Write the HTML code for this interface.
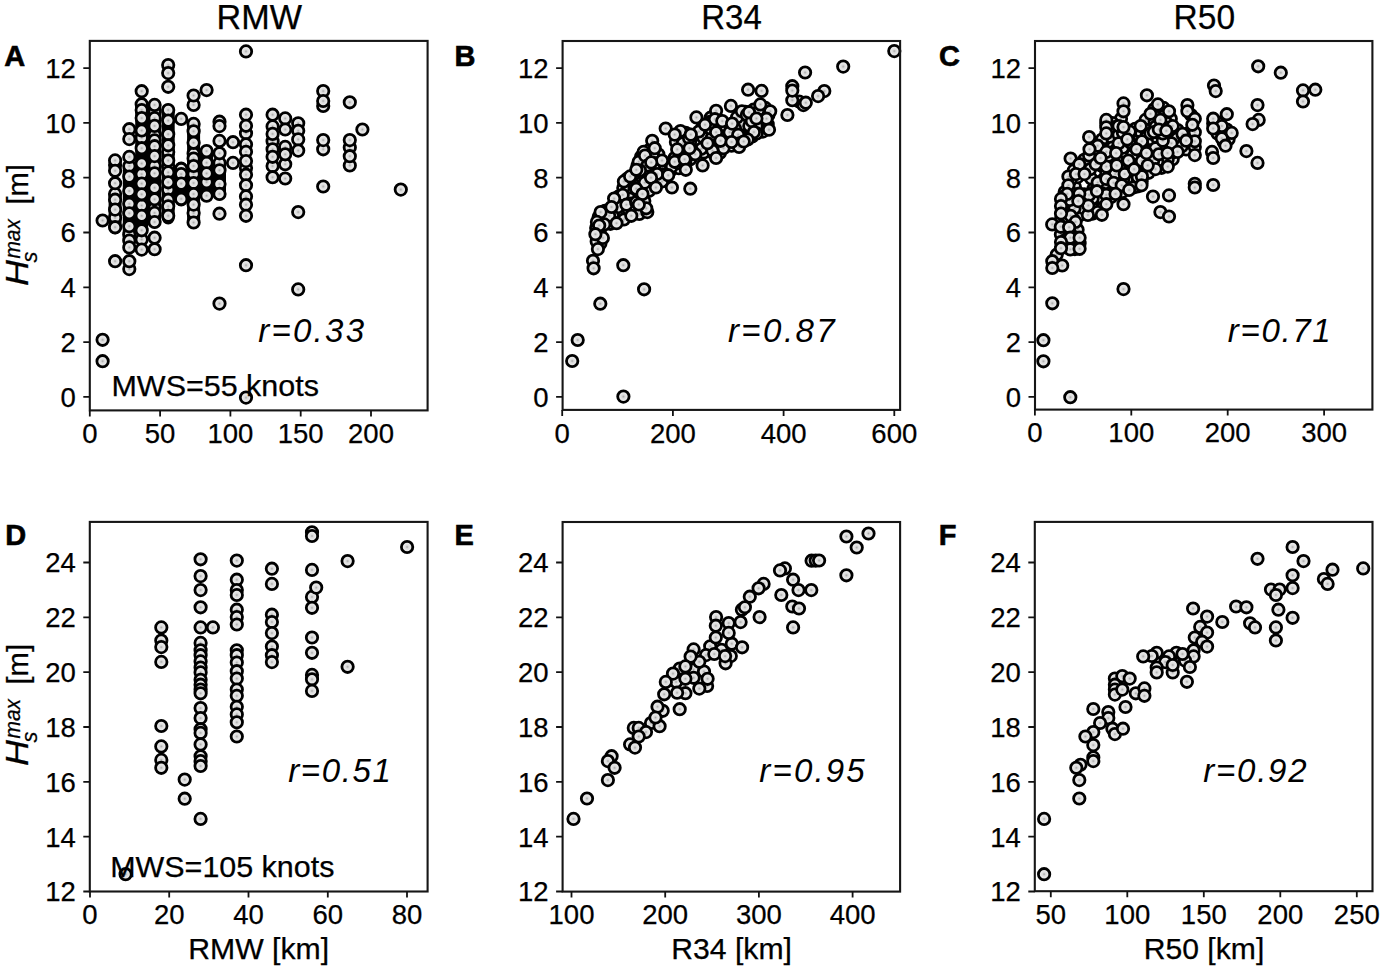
<!DOCTYPE html>
<html><head><meta charset="utf-8"><style>
html,body{margin:0;padding:0;background:#fff;width:1383px;height:969px;overflow:hidden}
svg{display:block;font-family:"Liberation Sans", sans-serif;} text{stroke:#000;stroke-width:0.25px;}
</style></head><body>
<svg width="1383" height="969" viewBox="0 0 1383 969"><defs><radialGradient id="mg"><stop offset="0" stop-color="#a8a8a8"/><stop offset="0.28" stop-color="#dadada"/><stop offset="0.55" stop-color="#e6e6e6"/><stop offset="1" stop-color="#ebebeb"/></radialGradient></defs><rect width="100%" height="100%" fill="#fff"/><path d="M115.1 195.0L115.1 228.0 M129.3 170.0L129.3 242.0 M141.7 108.0L141.7 226.0 M154.6 108.0L154.6 222.0 M168.2 110.0L168.2 218.0 M181.2 168.0L181.2 200.0 M193.6 124.0L193.6 220.0 M206.6 152.0L206.6 194.0 M219.5 168.0L219.5 194.0" stroke="#000" stroke-width="13" stroke-linecap="round" fill="none"/><g fill="url(#mg)" stroke="#000" stroke-width="2.8"><circle cx="115.1" cy="165.0" r="5.7"/><circle cx="115.1" cy="193.9" r="5.7"/><circle cx="115.1" cy="199.7" r="5.7"/><circle cx="115.1" cy="217.8" r="5.7"/><circle cx="129.3" cy="166.0" r="5.7"/><circle cx="129.3" cy="203.8" r="5.7"/><circle cx="129.3" cy="234.4" r="5.7"/><circle cx="129.3" cy="240.5" r="5.7"/><circle cx="129.3" cy="269.1" r="5.7"/><circle cx="141.7" cy="104.2" r="5.7"/><circle cx="141.7" cy="110.0" r="5.7"/><circle cx="141.7" cy="137.9" r="5.7"/><circle cx="141.7" cy="174.1" r="5.7"/><circle cx="141.7" cy="205.5" r="5.7"/><circle cx="141.7" cy="239.5" r="5.7"/><circle cx="154.6" cy="112.1" r="5.7"/><circle cx="154.6" cy="118.1" r="5.7"/><circle cx="154.6" cy="135.0" r="5.7"/><circle cx="154.6" cy="140.4" r="5.7"/><circle cx="154.6" cy="146.2" r="5.7"/><circle cx="154.6" cy="165.8" r="5.7"/><circle cx="154.6" cy="207.9" r="5.7"/><circle cx="154.6" cy="212.9" r="5.7"/><circle cx="168.2" cy="65.1" r="5.7"/><circle cx="168.2" cy="110.0" r="5.7"/><circle cx="168.2" cy="152.0" r="5.7"/><circle cx="168.2" cy="166.7" r="5.7"/><circle cx="168.2" cy="172.4" r="5.7"/><circle cx="168.2" cy="189.8" r="5.7"/><circle cx="168.2" cy="199.7" r="5.7"/><circle cx="168.2" cy="206.3" r="5.7"/><circle cx="181.2" cy="169.1" r="5.7"/><circle cx="181.2" cy="174.1" r="5.7"/><circle cx="193.6" cy="104.9" r="5.7"/><circle cx="193.6" cy="123.9" r="5.7"/><circle cx="193.6" cy="153.6" r="5.7"/><circle cx="193.6" cy="158.6" r="5.7"/><circle cx="193.6" cy="174.0" r="5.7"/><circle cx="193.6" cy="183.0" r="5.7"/><circle cx="193.6" cy="194.0" r="5.7"/><circle cx="193.6" cy="213.0" r="5.7"/><circle cx="206.6" cy="162.7" r="5.7"/><circle cx="206.6" cy="182.1" r="5.7"/><circle cx="219.5" cy="121.7" r="5.7"/><circle cx="219.5" cy="162.9" r="5.7"/><circle cx="246.0" cy="133.3" r="5.7"/><circle cx="246.0" cy="144.4" r="5.7"/><circle cx="246.0" cy="167.9" r="5.7"/><circle cx="272.6" cy="126.4" r="5.7"/><circle cx="272.6" cy="141.3" r="5.7"/><circle cx="272.6" cy="149.3" r="5.7"/><circle cx="272.6" cy="166.1" r="5.7"/><circle cx="285.2" cy="146.9" r="5.7"/><circle cx="285.2" cy="164.2" r="5.7"/><circle cx="298.2" cy="123.3" r="5.7"/><circle cx="298.2" cy="130.8" r="5.7"/><circle cx="323.2" cy="106.0" r="5.7"/><circle cx="323.2" cy="149.3" r="5.7"/><circle cx="349.8" cy="147.5" r="5.7"/><circle cx="349.8" cy="165.4" r="5.7"/><circle cx="102.6" cy="220.5" r="5.7"/><circle cx="102.6" cy="339.8" r="5.7"/><circle cx="102.6" cy="361.2" r="5.7"/><circle cx="115.1" cy="160.4" r="5.7"/><circle cx="115.1" cy="170.8" r="5.7"/><circle cx="115.1" cy="183.2" r="5.7"/><circle cx="115.1" cy="209.6" r="5.7"/><circle cx="115.1" cy="227.2" r="5.7"/><circle cx="115.1" cy="261.2" r="5.7"/><circle cx="129.3" cy="129.2" r="5.7"/><circle cx="129.3" cy="139.1" r="5.7"/><circle cx="129.3" cy="156.9" r="5.7"/><circle cx="129.3" cy="176.6" r="5.7"/><circle cx="129.3" cy="191.0" r="5.7"/><circle cx="129.3" cy="213.3" r="5.7"/><circle cx="129.3" cy="226.2" r="5.7"/><circle cx="129.3" cy="247.4" r="5.7"/><circle cx="129.3" cy="261.2" r="5.7"/><circle cx="141.7" cy="91.2" r="5.7"/><circle cx="141.7" cy="118.1" r="5.7"/><circle cx="141.7" cy="130.5" r="5.7"/><circle cx="141.7" cy="148.2" r="5.7"/><circle cx="141.7" cy="163.5" r="5.7"/><circle cx="141.7" cy="183.6" r="5.7"/><circle cx="141.7" cy="194.3" r="5.7"/><circle cx="141.7" cy="215.8" r="5.7"/><circle cx="141.7" cy="230.3" r="5.7"/><circle cx="141.7" cy="249.6" r="5.7"/><circle cx="154.6" cy="104.9" r="5.7"/><circle cx="154.6" cy="125.9" r="5.7"/><circle cx="154.6" cy="156.1" r="5.7"/><circle cx="154.6" cy="173.3" r="5.7"/><circle cx="154.6" cy="187.7" r="5.7"/><circle cx="154.6" cy="199.3" r="5.7"/><circle cx="154.6" cy="222.0" r="5.7"/><circle cx="154.6" cy="237.7" r="5.7"/><circle cx="154.6" cy="249.2" r="5.7"/><circle cx="168.2" cy="73.1" r="5.7"/><circle cx="168.2" cy="86.8" r="5.7"/><circle cx="168.2" cy="120.6" r="5.7"/><circle cx="168.2" cy="134.2" r="5.7"/><circle cx="168.2" cy="145.3" r="5.7"/><circle cx="168.2" cy="160.6" r="5.7"/><circle cx="168.2" cy="182.3" r="5.7"/><circle cx="168.2" cy="215.8" r="5.7"/><circle cx="181.2" cy="118.9" r="5.7"/><circle cx="181.2" cy="183.6" r="5.7"/><circle cx="181.2" cy="198.9" r="5.7"/><circle cx="193.6" cy="95.5" r="5.7"/><circle cx="193.6" cy="131.3" r="5.7"/><circle cx="193.6" cy="142.8" r="5.7"/><circle cx="193.6" cy="166.0" r="5.7"/><circle cx="193.6" cy="204.6" r="5.7"/><circle cx="193.6" cy="222.5" r="5.7"/><circle cx="206.6" cy="90.1" r="5.7"/><circle cx="206.6" cy="151.1" r="5.7"/><circle cx="206.6" cy="173.4" r="5.7"/><circle cx="206.6" cy="195.7" r="5.7"/><circle cx="219.5" cy="126.1" r="5.7"/><circle cx="219.5" cy="140.9" r="5.7"/><circle cx="219.5" cy="153.3" r="5.7"/><circle cx="219.5" cy="170.3" r="5.7"/><circle cx="219.5" cy="184.0" r="5.7"/><circle cx="219.5" cy="193.9" r="5.7"/><circle cx="219.5" cy="213.7" r="5.7"/><circle cx="219.5" cy="303.6" r="5.7"/><circle cx="233.0" cy="142.2" r="5.7"/><circle cx="233.0" cy="162.9" r="5.7"/><circle cx="246.0" cy="51.4" r="5.7"/><circle cx="246.0" cy="114.7" r="5.7"/><circle cx="246.0" cy="125.8" r="5.7"/><circle cx="246.0" cy="151.8" r="5.7"/><circle cx="246.0" cy="161.1" r="5.7"/><circle cx="246.0" cy="174.7" r="5.7"/><circle cx="246.0" cy="185.3" r="5.7"/><circle cx="246.0" cy="196.4" r="5.7"/><circle cx="246.0" cy="204.7" r="5.7"/><circle cx="246.0" cy="215.8" r="5.7"/><circle cx="246.0" cy="265.2" r="5.7"/><circle cx="246.0" cy="397.6" r="5.7"/><circle cx="272.6" cy="114.7" r="5.7"/><circle cx="272.6" cy="133.9" r="5.7"/><circle cx="272.6" cy="156.8" r="5.7"/><circle cx="272.6" cy="177.2" r="5.7"/><circle cx="285.2" cy="118.4" r="5.7"/><circle cx="285.2" cy="129.5" r="5.7"/><circle cx="285.2" cy="154.3" r="5.7"/><circle cx="285.2" cy="178.5" r="5.7"/><circle cx="298.2" cy="139.4" r="5.7"/><circle cx="298.2" cy="150.6" r="5.7"/><circle cx="298.2" cy="212.1" r="5.7"/><circle cx="298.2" cy="289.4" r="5.7"/><circle cx="323.2" cy="91.1" r="5.7"/><circle cx="323.2" cy="101.0" r="5.7"/><circle cx="323.2" cy="140.1" r="5.7"/><circle cx="323.2" cy="186.5" r="5.7"/><circle cx="349.8" cy="102.3" r="5.7"/><circle cx="349.8" cy="140.1" r="5.7"/><circle cx="349.8" cy="156.2" r="5.7"/><circle cx="362.4" cy="129.5" r="5.7"/><circle cx="400.8" cy="189.6" r="5.7"/></g><rect x="89.8" y="40.9" width="337.8" height="369.5" fill="none" stroke="#161616" stroke-width="2.1"/><path d="M89.8 410.4V416.4 M160.1 410.4V416.4 M230.4 410.4V416.4 M300.7 410.4V416.4 M371.0 410.4V416.4 M89.8 396.9H83.3 M89.8 342.1H83.3 M89.8 287.3H83.3 M89.8 232.5H83.3 M89.8 177.7H83.3 M89.8 122.9H83.3 M89.8 68.1H83.3" stroke="#111" stroke-width="1.8" fill="none"/><text x="89.8" y="443.1" text-anchor="middle" font-size="27.5">0</text><text x="160.1" y="443.1" text-anchor="middle" font-size="27.5">50</text><text x="230.4" y="443.1" text-anchor="middle" font-size="27.5">100</text><text x="300.7" y="443.1" text-anchor="middle" font-size="27.5">150</text><text x="371.0" y="443.1" text-anchor="middle" font-size="27.5">200</text><text x="75.8" y="406.8" text-anchor="end" font-size="27.5">0</text><text x="75.8" y="352.0" text-anchor="end" font-size="27.5">2</text><text x="75.8" y="297.2" text-anchor="end" font-size="27.5">4</text><text x="75.8" y="242.4" text-anchor="end" font-size="27.5">6</text><text x="75.8" y="187.6" text-anchor="end" font-size="27.5">8</text><text x="75.8" y="132.8" text-anchor="end" font-size="27.5">10</text><text x="75.8" y="78.0" text-anchor="end" font-size="27.5">12</text><g fill="url(#mg)" stroke="#000" stroke-width="2.8"><circle cx="799.1" cy="101.5" r="5.7"/><circle cx="765.3" cy="107.9" r="5.7"/><circle cx="763.4" cy="111.5" r="5.7"/><circle cx="753.6" cy="109.7" r="5.7"/><circle cx="758.4" cy="111.4" r="5.7"/><circle cx="768.4" cy="115.0" r="5.7"/><circle cx="767.7" cy="124.2" r="5.7"/><circle cx="759.1" cy="119.9" r="5.7"/><circle cx="761.6" cy="126.0" r="5.7"/><circle cx="762.8" cy="131.6" r="5.7"/><circle cx="745.6" cy="118.7" r="5.7"/><circle cx="743.8" cy="130.3" r="5.7"/><circle cx="740.7" cy="124.8" r="5.7"/><circle cx="748.5" cy="132.8" r="5.7"/><circle cx="737.0" cy="117.4" r="5.7"/><circle cx="745.5" cy="111.8" r="5.7"/><circle cx="715.5" cy="115.0" r="5.7"/><circle cx="710.6" cy="117.7" r="5.7"/><circle cx="715.5" cy="125.7" r="5.7"/><circle cx="718.6" cy="120.1" r="5.7"/><circle cx="709.9" cy="121.9" r="5.7"/><circle cx="707.5" cy="131.8" r="5.7"/><circle cx="694.0" cy="134.9" r="5.7"/><circle cx="703.2" cy="137.4" r="5.7"/><circle cx="702.0" cy="128.1" r="5.7"/><circle cx="722.9" cy="132.2" r="5.7"/><circle cx="711.8" cy="137.7" r="5.7"/><circle cx="710.6" cy="128.4" r="5.7"/><circle cx="733.9" cy="133.4" r="5.7"/><circle cx="734.6" cy="137.7" r="5.7"/><circle cx="726.6" cy="140.2" r="5.7"/><circle cx="725.9" cy="126.7" r="5.7"/><circle cx="730.9" cy="127.9" r="5.7"/><circle cx="738.9" cy="139.0" r="5.7"/><circle cx="735.2" cy="129.1" r="5.7"/><circle cx="743.0" cy="137.1" r="5.7"/><circle cx="731.5" cy="145.7" r="5.7"/><circle cx="735.6" cy="142.6" r="5.7"/><circle cx="718.0" cy="149.4" r="5.7"/><circle cx="719.8" cy="153.1" r="5.7"/><circle cx="715.5" cy="145.7" r="5.7"/><circle cx="722.0" cy="144.5" r="5.7"/><circle cx="714.3" cy="154.3" r="5.7"/><circle cx="703.8" cy="152.5" r="5.7"/><circle cx="710.0" cy="146.9" r="5.7"/><circle cx="690.3" cy="159.2" r="5.7"/><circle cx="701.4" cy="148.8" r="5.7"/><circle cx="692.4" cy="151.3" r="5.7"/><circle cx="681.7" cy="137.1" r="5.7"/><circle cx="686.0" cy="140.8" r="5.7"/><circle cx="686.2" cy="145.7" r="5.7"/><circle cx="680.0" cy="146.3" r="5.7"/><circle cx="683.8" cy="151.3" r="5.7"/><circle cx="685.6" cy="132.8" r="5.7"/><circle cx="649.1" cy="150.0" r="5.7"/><circle cx="658.3" cy="154.3" r="5.7"/><circle cx="652.9" cy="155.3" r="5.7"/><circle cx="641.1" cy="156.8" r="5.7"/><circle cx="645.5" cy="158.7" r="5.7"/><circle cx="666.9" cy="163.5" r="5.7"/><circle cx="659.6" cy="167.2" r="5.7"/><circle cx="665.1" cy="167.8" r="5.7"/><circle cx="654.7" cy="163.0" r="5.7"/><circle cx="670.0" cy="170.9" r="5.7"/><circle cx="674.5" cy="158.0" r="5.7"/><circle cx="678.8" cy="168.2" r="5.7"/><circle cx="642.4" cy="166.0" r="5.7"/><circle cx="637.5" cy="165.8" r="5.7"/><circle cx="681.7" cy="163.5" r="5.7"/><circle cx="687.5" cy="156.2" r="5.7"/><circle cx="681.3" cy="156.8" r="5.7"/><circle cx="662.6" cy="174.6" r="5.7"/><circle cx="651.6" cy="172.1" r="5.7"/><circle cx="656.5" cy="180.7" r="5.7"/><circle cx="654.1" cy="168.2" r="5.7"/><circle cx="662.0" cy="181.4" r="5.7"/><circle cx="640.5" cy="185.7" r="5.7"/><circle cx="637.4" cy="179.5" r="5.7"/><circle cx="645.4" cy="176.4" r="5.7"/><circle cx="650.3" cy="185.0" r="5.7"/><circle cx="643.6" cy="188.3" r="5.7"/><circle cx="640.6" cy="176.2" r="5.7"/><circle cx="630.1" cy="185.0" r="5.7"/><circle cx="629.5" cy="191.8" r="5.7"/><circle cx="636.2" cy="195.5" r="5.7"/><circle cx="639.3" cy="191.4" r="5.7"/><circle cx="627.0" cy="178.9" r="5.7"/><circle cx="623.3" cy="188.1" r="5.7"/><circle cx="635.0" cy="173.5" r="5.7"/><circle cx="618.4" cy="196.7" r="5.7"/><circle cx="624.5" cy="199.8" r="5.7"/><circle cx="629.5" cy="198.6" r="5.7"/><circle cx="617.1" cy="200.9" r="5.7"/><circle cx="631.3" cy="203.5" r="5.7"/><circle cx="617.8" cy="207.2" r="5.7"/><circle cx="628.8" cy="210.2" r="5.7"/><circle cx="633.8" cy="209.0" r="5.7"/><circle cx="641.7" cy="207.2" r="5.7"/><circle cx="639.3" cy="198.1" r="5.7"/><circle cx="604.9" cy="210.9" r="5.7"/><circle cx="603.0" cy="215.8" r="5.7"/><circle cx="612.9" cy="216.4" r="5.7"/><circle cx="606.7" cy="220.1" r="5.7"/><circle cx="598.7" cy="217.0" r="5.7"/><circle cx="639.3" cy="213.9" r="5.7"/><circle cx="623.9" cy="219.5" r="5.7"/><circle cx="599.9" cy="229.9" r="5.7"/><circle cx="596.2" cy="228.1" r="5.7"/><circle cx="610.4" cy="223.8" r="5.7"/><circle cx="756.5" cy="126.0" r="5.7"/><circle cx="752.2" cy="136.5" r="5.7"/><circle cx="645.5" cy="163.0" r="5.7"/><circle cx="649.2" cy="190.8" r="5.7"/><circle cx="675.9" cy="142.0" r="5.7"/><circle cx="690.2" cy="141.4" r="5.7"/><circle cx="644.3" cy="201.1" r="5.7"/><circle cx="600.4" cy="243.5" r="5.7"/><circle cx="599.2" cy="236.1" r="5.7"/><circle cx="596.7" cy="241.6" r="5.7"/><circle cx="894.3" cy="51.1" r="5.7"/><circle cx="843.2" cy="66.6" r="5.7"/><circle cx="805.1" cy="72.5" r="5.7"/><circle cx="748.1" cy="89.7" r="5.7"/><circle cx="761.6" cy="90.9" r="5.7"/><circle cx="792.3" cy="86.2" r="5.7"/><circle cx="824.3" cy="91.1" r="5.7"/><circle cx="818.1" cy="96.1" r="5.7"/><circle cx="792.3" cy="100.2" r="5.7"/><circle cx="803.4" cy="105.1" r="5.7"/><circle cx="805.8" cy="102.7" r="5.7"/><circle cx="760.4" cy="104.4" r="5.7"/><circle cx="730.9" cy="105.9" r="5.7"/><circle cx="787.4" cy="115.0" r="5.7"/><circle cx="770.2" cy="111.3" r="5.7"/><circle cx="766.5" cy="118.7" r="5.7"/><circle cx="769.0" cy="129.7" r="5.7"/><circle cx="749.3" cy="126.0" r="5.7"/><circle cx="741.9" cy="111.3" r="5.7"/><circle cx="746.8" cy="115.0" r="5.7"/><circle cx="716.1" cy="110.8" r="5.7"/><circle cx="714.9" cy="119.2" r="5.7"/><circle cx="696.4" cy="117.4" r="5.7"/><circle cx="698.9" cy="131.5" r="5.7"/><circle cx="716.1" cy="132.2" r="5.7"/><circle cx="729.6" cy="132.2" r="5.7"/><circle cx="738.2" cy="134.7" r="5.7"/><circle cx="739.5" cy="143.3" r="5.7"/><circle cx="723.5" cy="148.2" r="5.7"/><circle cx="712.4" cy="150.6" r="5.7"/><circle cx="716.1" cy="158.0" r="5.7"/><circle cx="702.6" cy="165.4" r="5.7"/><circle cx="695.2" cy="154.3" r="5.7"/><circle cx="682.9" cy="143.3" r="5.7"/><circle cx="680.5" cy="131.0" r="5.7"/><circle cx="665.7" cy="128.5" r="5.7"/><circle cx="689.1" cy="138.3" r="5.7"/><circle cx="652.2" cy="140.8" r="5.7"/><circle cx="654.7" cy="148.2" r="5.7"/><circle cx="643.6" cy="151.9" r="5.7"/><circle cx="662.0" cy="160.5" r="5.7"/><circle cx="671.9" cy="166.6" r="5.7"/><circle cx="638.7" cy="161.7" r="5.7"/><circle cx="678.0" cy="162.9" r="5.7"/><circle cx="685.4" cy="164.2" r="5.7"/><circle cx="657.1" cy="174.0" r="5.7"/><circle cx="668.2" cy="175.2" r="5.7"/><circle cx="644.8" cy="182.6" r="5.7"/><circle cx="636.2" cy="188.7" r="5.7"/><circle cx="623.9" cy="181.4" r="5.7"/><circle cx="630.1" cy="176.4" r="5.7"/><circle cx="671.9" cy="187.5" r="5.7"/><circle cx="690.3" cy="188.7" r="5.7"/><circle cx="622.7" cy="194.9" r="5.7"/><circle cx="614.1" cy="198.6" r="5.7"/><circle cx="626.4" cy="204.7" r="5.7"/><circle cx="636.2" cy="202.3" r="5.7"/><circle cx="609.2" cy="209.6" r="5.7"/><circle cx="609.2" cy="215.8" r="5.7"/><circle cx="600.6" cy="212.1" r="5.7"/><circle cx="631.3" cy="215.8" r="5.7"/><circle cx="647.3" cy="212.1" r="5.7"/><circle cx="596.9" cy="221.9" r="5.7"/><circle cx="604.3" cy="224.4" r="5.7"/><circle cx="616.5" cy="223.2" r="5.7"/><circle cx="707.5" cy="143.3" r="5.7"/><circle cx="722.3" cy="121.1" r="5.7"/><circle cx="732.1" cy="123.6" r="5.7"/><circle cx="751.8" cy="121.1" r="5.7"/><circle cx="756.7" cy="133.4" r="5.7"/><circle cx="646.0" cy="170.3" r="5.7"/><circle cx="651.0" cy="177.7" r="5.7"/><circle cx="655.9" cy="187.5" r="5.7"/><circle cx="792.3" cy="90.6" r="5.7"/><circle cx="749.0" cy="112.3" r="5.7"/><circle cx="739.1" cy="147.0" r="5.7"/><circle cx="705.0" cy="124.7" r="5.7"/><circle cx="674.7" cy="134.6" r="5.7"/><circle cx="690.8" cy="134.6" r="5.7"/><circle cx="720.5" cy="140.8" r="5.7"/><circle cx="689.5" cy="148.2" r="5.7"/><circle cx="677.2" cy="149.4" r="5.7"/><circle cx="674.7" cy="161.8" r="5.7"/><circle cx="684.6" cy="159.3" r="5.7"/><circle cx="645.0" cy="155.6" r="5.7"/><circle cx="647.4" cy="165.5" r="5.7"/><circle cx="640.0" cy="170.5" r="5.7"/><circle cx="642.5" cy="194.0" r="5.7"/><circle cx="646.2" cy="208.3" r="5.7"/><circle cx="753.9" cy="132.1" r="5.7"/><circle cx="756.4" cy="118.5" r="5.7"/><circle cx="731.6" cy="142.0" r="5.7"/><circle cx="747.7" cy="139.5" r="5.7"/><circle cx="638.8" cy="204.5" r="5.7"/><circle cx="611.5" cy="207.0" r="5.7"/><circle cx="599.2" cy="225.5" r="5.7"/><circle cx="602.9" cy="237.9" r="5.7"/><circle cx="597.9" cy="249.1" r="5.7"/><circle cx="593.0" cy="260.8" r="5.7"/><circle cx="593.6" cy="268.3" r="5.7"/><circle cx="623.3" cy="265.2" r="5.7"/><circle cx="595.4" cy="234.2" r="5.7"/><circle cx="636.3" cy="169.8" r="5.7"/><circle cx="651.2" cy="162.4" r="5.7"/><circle cx="685.8" cy="169.8" r="5.7"/><circle cx="644.1" cy="289.3" r="5.7"/><circle cx="600.3" cy="303.7" r="5.7"/><circle cx="577.7" cy="340.0" r="5.7"/><circle cx="572.2" cy="361.0" r="5.7"/><circle cx="623.4" cy="396.6" r="5.7"/><circle cx="743.7" cy="141.5" r="5.7"/></g><rect x="562.6" y="41.0" width="337.5" height="368.9" fill="none" stroke="#161616" stroke-width="2.1"/><path d="M562.2 409.9V415.9 M672.9 409.9V415.9 M783.6 409.9V415.9 M894.3 409.9V415.9 M562.6 396.9H556.1 M562.6 342.1H556.1 M562.6 287.3H556.1 M562.6 232.5H556.1 M562.6 177.7H556.1 M562.6 122.9H556.1 M562.6 68.1H556.1" stroke="#111" stroke-width="1.8" fill="none"/><text x="562.2" y="442.6" text-anchor="middle" font-size="27.5">0</text><text x="672.9" y="442.6" text-anchor="middle" font-size="27.5">200</text><text x="783.6" y="442.6" text-anchor="middle" font-size="27.5">400</text><text x="894.3" y="442.6" text-anchor="middle" font-size="27.5">600</text><text x="548.6" y="406.8" text-anchor="end" font-size="27.5">0</text><text x="548.6" y="352.0" text-anchor="end" font-size="27.5">2</text><text x="548.6" y="297.2" text-anchor="end" font-size="27.5">4</text><text x="548.6" y="242.4" text-anchor="end" font-size="27.5">6</text><text x="548.6" y="187.6" text-anchor="end" font-size="27.5">8</text><text x="548.6" y="132.8" text-anchor="end" font-size="27.5">10</text><text x="548.6" y="78.0" text-anchor="end" font-size="27.5">12</text><g fill="url(#mg)" stroke="#000" stroke-width="2.8"><circle cx="1121.0" cy="118.7" r="5.7"/><circle cx="1163.5" cy="107.9" r="5.7"/><circle cx="1154.2" cy="109.1" r="5.7"/><circle cx="1159.2" cy="112.2" r="5.7"/><circle cx="1164.7" cy="115.6" r="5.7"/><circle cx="1170.8" cy="118.7" r="5.7"/><circle cx="1191.1" cy="115.0" r="5.7"/><circle cx="1188.7" cy="133.1" r="5.7"/><circle cx="1217.5" cy="122.4" r="5.7"/><circle cx="1213.2" cy="123.6" r="5.7"/><circle cx="1217.5" cy="127.3" r="5.7"/><circle cx="1226.8" cy="129.5" r="5.7"/><circle cx="1221.8" cy="132.2" r="5.7"/><circle cx="1217.5" cy="133.4" r="5.7"/><circle cx="1226.8" cy="135.6" r="5.7"/><circle cx="1228.6" cy="139.3" r="5.7"/><circle cx="1223.7" cy="142.0" r="5.7"/><circle cx="1186.2" cy="149.4" r="5.7"/><circle cx="1106.3" cy="123.6" r="5.7"/><circle cx="1112.4" cy="123.0" r="5.7"/><circle cx="1114.9" cy="127.2" r="5.7"/><circle cx="1102.0" cy="139.6" r="5.7"/><circle cx="1112.4" cy="138.3" r="5.7"/><circle cx="1102.0" cy="148.8" r="5.7"/><circle cx="1093.4" cy="150.6" r="5.7"/><circle cx="1099.2" cy="151.9" r="5.7"/><circle cx="1124.1" cy="137.4" r="5.7"/><circle cx="1112.4" cy="147.6" r="5.7"/><circle cx="1117.4" cy="148.2" r="5.7"/><circle cx="1124.1" cy="142.6" r="5.7"/><circle cx="1118.6" cy="134.7" r="5.7"/><circle cx="1135.2" cy="128.8" r="5.7"/><circle cx="1135.8" cy="136.4" r="5.7"/><circle cx="1129.7" cy="136.7" r="5.7"/><circle cx="1145.6" cy="119.9" r="5.7"/><circle cx="1141.3" cy="133.7" r="5.7"/><circle cx="1145.6" cy="129.7" r="5.7"/><circle cx="1155.5" cy="116.8" r="5.7"/><circle cx="1154.7" cy="121.6" r="5.7"/><circle cx="1166.5" cy="123.0" r="5.7"/><circle cx="1161.6" cy="126.7" r="5.7"/><circle cx="1155.5" cy="126.7" r="5.7"/><circle cx="1177.6" cy="130.0" r="5.7"/><circle cx="1172.1" cy="134.7" r="5.7"/><circle cx="1167.8" cy="133.4" r="5.7"/><circle cx="1165.8" cy="127.8" r="5.7"/><circle cx="1177.0" cy="138.6" r="5.7"/><circle cx="1184.3" cy="137.3" r="5.7"/><circle cx="1174.5" cy="147.6" r="5.7"/><circle cx="1163.5" cy="145.7" r="5.7"/><circle cx="1167.1" cy="142.0" r="5.7"/><circle cx="1169.5" cy="148.2" r="5.7"/><circle cx="1172.7" cy="159.2" r="5.7"/><circle cx="1181.8" cy="146.3" r="5.7"/><circle cx="1172.5" cy="152.5" r="5.7"/><circle cx="1161.6" cy="167.8" r="5.7"/><circle cx="1163.3" cy="160.5" r="5.7"/><circle cx="1167.6" cy="159.8" r="5.7"/><circle cx="1148.7" cy="172.8" r="5.7"/><circle cx="1157.2" cy="161.7" r="5.7"/><circle cx="1148.7" cy="144.7" r="5.7"/><circle cx="1135.8" cy="141.7" r="5.7"/><circle cx="1146.2" cy="137.4" r="5.7"/><circle cx="1139.2" cy="145.3" r="5.7"/><circle cx="1144.2" cy="147.2" r="5.7"/><circle cx="1159.2" cy="144.5" r="5.7"/><circle cx="1153.0" cy="140.8" r="5.7"/><circle cx="1161.5" cy="150.6" r="5.7"/><circle cx="1151.0" cy="150.6" r="5.7"/><circle cx="1135.2" cy="160.7" r="5.7"/><circle cx="1141.9" cy="168.7" r="5.7"/><circle cx="1144.8" cy="163.2" r="5.7"/><circle cx="1138.0" cy="165.1" r="5.7"/><circle cx="1139.2" cy="155.2" r="5.7"/><circle cx="1144.2" cy="157.0" r="5.7"/><circle cx="1126.6" cy="167.2" r="5.7"/><circle cx="1122.3" cy="156.8" r="5.7"/><circle cx="1122.6" cy="163.0" r="5.7"/><circle cx="1131.2" cy="164.8" r="5.7"/><circle cx="1132.5" cy="154.9" r="5.7"/><circle cx="1106.3" cy="159.2" r="5.7"/><circle cx="1106.3" cy="172.8" r="5.7"/><circle cx="1111.2" cy="159.8" r="5.7"/><circle cx="1101.0" cy="165.4" r="5.7"/><circle cx="1111.5" cy="166.0" r="5.7"/><circle cx="1110.0" cy="174.7" r="5.7"/><circle cx="1111.2" cy="152.5" r="5.7"/><circle cx="1084.2" cy="159.8" r="5.7"/><circle cx="1092.4" cy="159.9" r="5.7"/><circle cx="1087.5" cy="164.2" r="5.7"/><circle cx="1073.8" cy="170.4" r="5.7"/><circle cx="1081.9" cy="169.1" r="5.7"/><circle cx="1133.3" cy="175.2" r="5.7"/><circle cx="1129.0" cy="180.7" r="5.7"/><circle cx="1120.7" cy="169.7" r="5.7"/><circle cx="1129.4" cy="171.6" r="5.7"/><circle cx="1119.2" cy="178.4" r="5.7"/><circle cx="1123.2" cy="179.6" r="5.7"/><circle cx="1137.6" cy="182.0" r="5.7"/><circle cx="1138.0" cy="172.8" r="5.7"/><circle cx="1141.7" cy="180.9" r="5.7"/><circle cx="1102.0" cy="180.7" r="5.7"/><circle cx="1093.4" cy="188.7" r="5.7"/><circle cx="1102.0" cy="188.7" r="5.7"/><circle cx="1105.7" cy="182.7" r="5.7"/><circle cx="1091.1" cy="178.4" r="5.7"/><circle cx="1097.3" cy="186.9" r="5.7"/><circle cx="1106.3" cy="186.9" r="5.7"/><circle cx="1084.2" cy="194.3" r="5.7"/><circle cx="1097.7" cy="194.9" r="5.7"/><circle cx="1088.7" cy="200.2" r="5.7"/><circle cx="1093.0" cy="193.1" r="5.7"/><circle cx="1074.9" cy="186.9" r="5.7"/><circle cx="1073.2" cy="193.8" r="5.7"/><circle cx="1083.8" cy="199.6" r="5.7"/><circle cx="1078.8" cy="197.4" r="5.7"/><circle cx="1073.3" cy="177.1" r="5.7"/><circle cx="1077.6" cy="177.1" r="5.7"/><circle cx="1106.3" cy="199.6" r="5.7"/><circle cx="1111.2" cy="192.4" r="5.7"/><circle cx="1101.6" cy="193.1" r="5.7"/><circle cx="1102.0" cy="208.2" r="5.7"/><circle cx="1111.2" cy="197.1" r="5.7"/><circle cx="1101.6" cy="197.7" r="5.7"/><circle cx="1092.8" cy="213.6" r="5.7"/><circle cx="1093.0" cy="208.8" r="5.7"/><circle cx="1079.3" cy="215.4" r="5.7"/><circle cx="1088.1" cy="210.3" r="5.7"/><circle cx="1083.1" cy="208.1" r="5.7"/><circle cx="1066.3" cy="212.7" r="5.7"/><circle cx="1065.7" cy="221.3" r="5.7"/><circle cx="1073.1" cy="218.9" r="5.7"/><circle cx="1074.5" cy="208.5" r="5.7"/><circle cx="1069.9" cy="221.5" r="5.7"/><circle cx="1061.4" cy="218.2" r="5.7"/><circle cx="1064.6" cy="201.8" r="5.7"/><circle cx="1064.9" cy="227.0" r="5.7"/><circle cx="1065.6" cy="232.3" r="5.7"/><circle cx="1060.9" cy="234.4" r="5.7"/><circle cx="1068.3" cy="217.7" r="5.7"/><circle cx="1072.9" cy="229.8" r="5.7"/><circle cx="1077.6" cy="229.8" r="5.7"/><circle cx="1124.7" cy="188.7" r="5.7"/><circle cx="1114.9" cy="186.4" r="5.7"/><circle cx="1118.9" cy="187.6" r="5.7"/><circle cx="1137.4" cy="186.4" r="5.7"/><circle cx="1122.9" cy="147.6" r="5.7"/><circle cx="1116.4" cy="159.3" r="5.7"/><circle cx="1108.4" cy="155.6" r="5.7"/><circle cx="1133.1" cy="145.7" r="5.7"/><circle cx="1162.8" cy="137.1" r="5.7"/><circle cx="1156.7" cy="137.1" r="5.7"/><circle cx="1158.4" cy="132.7" r="5.7"/><circle cx="1122.9" cy="132.7" r="5.7"/><circle cx="1153.3" cy="159.9" r="5.7"/><circle cx="1090.1" cy="169.2" r="5.7"/><circle cx="1098.2" cy="161.1" r="5.7"/><circle cx="1115.2" cy="174.1" r="5.7"/><circle cx="1137.8" cy="177.2" r="5.7"/><circle cx="1064.7" cy="192.1" r="5.7"/><circle cx="1122.3" cy="192.0" r="5.7"/><circle cx="1064.1" cy="196.4" r="5.7"/><circle cx="1069.7" cy="200.0" r="5.7"/><circle cx="1141.5" cy="151.2" r="5.7"/><circle cx="1092.6" cy="198.4" r="5.7"/><circle cx="1069.7" cy="232.4" r="5.7"/><circle cx="1074.9" cy="237.7" r="5.7"/><circle cx="1065.7" cy="239.8" r="5.7"/><circle cx="1070.3" cy="243.6" r="5.7"/><circle cx="1074.9" cy="243.3" r="5.7"/><circle cx="1079.6" cy="243.3" r="5.7"/><circle cx="1065.7" cy="245.7" r="5.7"/><circle cx="1074.9" cy="249.1" r="5.7"/><circle cx="1056.7" cy="254.7" r="5.7"/><circle cx="1258.2" cy="66.3" r="5.7"/><circle cx="1280.8" cy="72.7" r="5.7"/><circle cx="1214.0" cy="85.5" r="5.7"/><circle cx="1215.7" cy="91.1" r="5.7"/><circle cx="1303.0" cy="90.4" r="5.7"/><circle cx="1315.3" cy="89.7" r="5.7"/><circle cx="1303.0" cy="101.5" r="5.7"/><circle cx="1257.5" cy="105.1" r="5.7"/><circle cx="1258.7" cy="119.9" r="5.7"/><circle cx="1252.6" cy="124.1" r="5.7"/><circle cx="1146.9" cy="95.3" r="5.7"/><circle cx="1123.5" cy="103.4" r="5.7"/><circle cx="1123.5" cy="111.3" r="5.7"/><circle cx="1157.9" cy="104.4" r="5.7"/><circle cx="1169.0" cy="111.3" r="5.7"/><circle cx="1187.4" cy="105.1" r="5.7"/><circle cx="1187.4" cy="111.3" r="5.7"/><circle cx="1194.8" cy="118.7" r="5.7"/><circle cx="1194.8" cy="132.2" r="5.7"/><circle cx="1213.2" cy="118.7" r="5.7"/><circle cx="1226.8" cy="114.2" r="5.7"/><circle cx="1221.8" cy="126.0" r="5.7"/><circle cx="1213.2" cy="128.5" r="5.7"/><circle cx="1231.7" cy="132.9" r="5.7"/><circle cx="1221.8" cy="138.3" r="5.7"/><circle cx="1225.5" cy="145.7" r="5.7"/><circle cx="1212.0" cy="151.9" r="5.7"/><circle cx="1213.2" cy="158.0" r="5.7"/><circle cx="1194.8" cy="146.9" r="5.7"/><circle cx="1194.8" cy="155.1" r="5.7"/><circle cx="1246.4" cy="151.1" r="5.7"/><circle cx="1257.5" cy="162.9" r="5.7"/><circle cx="1194.8" cy="183.8" r="5.7"/><circle cx="1194.8" cy="187.5" r="5.7"/><circle cx="1213.2" cy="185.0" r="5.7"/><circle cx="1153.0" cy="196.6" r="5.7"/><circle cx="1169.0" cy="195.4" r="5.7"/><circle cx="1160.4" cy="212.1" r="5.7"/><circle cx="1169.0" cy="216.5" r="5.7"/><circle cx="1106.3" cy="119.9" r="5.7"/><circle cx="1106.3" cy="127.3" r="5.7"/><circle cx="1106.3" cy="133.4" r="5.7"/><circle cx="1089.1" cy="137.1" r="5.7"/><circle cx="1097.7" cy="145.7" r="5.7"/><circle cx="1118.6" cy="143.3" r="5.7"/><circle cx="1129.7" cy="131.5" r="5.7"/><circle cx="1140.7" cy="126.0" r="5.7"/><circle cx="1150.5" cy="113.8" r="5.7"/><circle cx="1160.4" cy="119.9" r="5.7"/><circle cx="1172.7" cy="126.0" r="5.7"/><circle cx="1182.5" cy="133.9" r="5.7"/><circle cx="1171.4" cy="143.3" r="5.7"/><circle cx="1177.6" cy="151.9" r="5.7"/><circle cx="1167.8" cy="166.6" r="5.7"/><circle cx="1155.5" cy="169.1" r="5.7"/><circle cx="1141.9" cy="141.3" r="5.7"/><circle cx="1155.5" cy="148.2" r="5.7"/><circle cx="1141.9" cy="161.0" r="5.7"/><circle cx="1128.4" cy="160.5" r="5.7"/><circle cx="1106.3" cy="166.6" r="5.7"/><circle cx="1106.3" cy="151.9" r="5.7"/><circle cx="1089.1" cy="155.5" r="5.7"/><circle cx="1070.6" cy="158.5" r="5.7"/><circle cx="1079.3" cy="164.2" r="5.7"/><circle cx="1124.7" cy="174.0" r="5.7"/><circle cx="1141.9" cy="176.4" r="5.7"/><circle cx="1097.7" cy="182.6" r="5.7"/><circle cx="1106.3" cy="178.9" r="5.7"/><circle cx="1089.1" cy="194.9" r="5.7"/><circle cx="1079.3" cy="193.7" r="5.7"/><circle cx="1070.6" cy="180.1" r="5.7"/><circle cx="1106.3" cy="194.9" r="5.7"/><circle cx="1106.3" cy="204.2" r="5.7"/><circle cx="1123.5" cy="204.2" r="5.7"/><circle cx="1097.7" cy="212.1" r="5.7"/><circle cx="1087.9" cy="215.0" r="5.7"/><circle cx="1070.6" cy="215.8" r="5.7"/><circle cx="1062.0" cy="209.6" r="5.7"/><circle cx="1052.2" cy="224.4" r="5.7"/><circle cx="1060.8" cy="226.8" r="5.7"/><circle cx="1075.6" cy="221.9" r="5.7"/><circle cx="1116.1" cy="190.0" r="5.7"/><circle cx="1133.3" cy="187.5" r="5.7"/><circle cx="1116.1" cy="153.1" r="5.7"/><circle cx="1129.7" cy="142.0" r="5.7"/><circle cx="1194.8" cy="141.3" r="5.7"/><circle cx="1192.3" cy="124.8" r="5.7"/><circle cx="1162.8" cy="140.8" r="5.7"/><circle cx="1162.8" cy="133.4" r="5.7"/><circle cx="1150.5" cy="133.4" r="5.7"/><circle cx="1118.6" cy="126.0" r="5.7"/><circle cx="1123.5" cy="127.1" r="5.7"/><circle cx="1153.9" cy="132.0" r="5.7"/><circle cx="1158.8" cy="129.5" r="5.7"/><circle cx="1166.3" cy="130.8" r="5.7"/><circle cx="1186.1" cy="140.7" r="5.7"/><circle cx="1127.3" cy="139.4" r="5.7"/><circle cx="1158.8" cy="154.3" r="5.7"/><circle cx="1167.5" cy="153.1" r="5.7"/><circle cx="1147.7" cy="165.4" r="5.7"/><circle cx="1095.7" cy="164.2" r="5.7"/><circle cx="1116.7" cy="165.4" r="5.7"/><circle cx="1134.1" cy="169.2" r="5.7"/><circle cx="1113.6" cy="182.8" r="5.7"/><circle cx="1121.7" cy="185.3" r="5.7"/><circle cx="1141.5" cy="185.3" r="5.7"/><circle cx="1068.4" cy="176.6" r="5.7"/><circle cx="1075.9" cy="174.1" r="5.7"/><circle cx="1084.5" cy="174.1" r="5.7"/><circle cx="1068.4" cy="185.3" r="5.7"/><circle cx="1115.5" cy="193.9" r="5.7"/><circle cx="1067.2" cy="193.9" r="5.7"/><circle cx="1061.0" cy="198.9" r="5.7"/><circle cx="1089.5" cy="149.3" r="5.7"/><circle cx="1100.6" cy="158.0" r="5.7"/><circle cx="1136.5" cy="149.3" r="5.7"/><circle cx="1146.5" cy="153.1" r="5.7"/><circle cx="1101.9" cy="214.8" r="5.7"/><circle cx="1088.3" cy="205.5" r="5.7"/><circle cx="1078.3" cy="201.1" r="5.7"/><circle cx="1061.0" cy="206.1" r="5.7"/><circle cx="1061.0" cy="213.5" r="5.7"/><circle cx="1069.1" cy="227.2" r="5.7"/><circle cx="1070.3" cy="237.7" r="5.7"/><circle cx="1079.6" cy="237.7" r="5.7"/><circle cx="1061.0" cy="242.0" r="5.7"/><circle cx="1070.3" cy="249.4" r="5.7"/><circle cx="1079.6" cy="248.8" r="5.7"/><circle cx="1061.0" cy="248.2" r="5.7"/><circle cx="1052.3" cy="261.2" r="5.7"/><circle cx="1062.2" cy="265.5" r="5.7"/><circle cx="1052.3" cy="268.0" r="5.7"/><circle cx="1123.5" cy="289.1" r="5.7"/><circle cx="1052.3" cy="303.3" r="5.7"/><circle cx="1129.1" cy="190.0" r="5.7"/><circle cx="1096.9" cy="191.2" r="5.7"/><circle cx="1043.4" cy="340.2" r="5.7"/><circle cx="1043.4" cy="361.3" r="5.7"/><circle cx="1070.3" cy="397.2" r="5.7"/></g><rect x="1035.0" y="41.0" width="337.4" height="368.6" fill="none" stroke="#161616" stroke-width="2.1"/><path d="M1034.9 409.6V415.6 M1131.3 409.6V415.6 M1227.7 409.6V415.6 M1324.1 409.6V415.6 M1035.0 396.9H1028.5 M1035.0 342.1H1028.5 M1035.0 287.3H1028.5 M1035.0 232.5H1028.5 M1035.0 177.7H1028.5 M1035.0 122.9H1028.5 M1035.0 68.1H1028.5" stroke="#111" stroke-width="1.8" fill="none"/><text x="1034.9" y="442.3" text-anchor="middle" font-size="27.5">0</text><text x="1131.3" y="442.3" text-anchor="middle" font-size="27.5">100</text><text x="1227.7" y="442.3" text-anchor="middle" font-size="27.5">200</text><text x="1324.1" y="442.3" text-anchor="middle" font-size="27.5">300</text><text x="1021.0" y="406.8" text-anchor="end" font-size="27.5">0</text><text x="1021.0" y="352.0" text-anchor="end" font-size="27.5">2</text><text x="1021.0" y="297.2" text-anchor="end" font-size="27.5">4</text><text x="1021.0" y="242.4" text-anchor="end" font-size="27.5">6</text><text x="1021.0" y="187.6" text-anchor="end" font-size="27.5">8</text><text x="1021.0" y="132.8" text-anchor="end" font-size="27.5">10</text><text x="1021.0" y="78.0" text-anchor="end" font-size="27.5">12</text><g fill="url(#mg)" stroke="#000" stroke-width="2.8"><circle cx="161.3" cy="627.4" r="5.7"/><circle cx="161.3" cy="640.5" r="5.7"/><circle cx="161.3" cy="647.1" r="5.7"/><circle cx="161.3" cy="661.9" r="5.7"/><circle cx="200.6" cy="559.3" r="5.7"/><circle cx="200.6" cy="576.1" r="5.7"/><circle cx="200.6" cy="590.1" r="5.7"/><circle cx="200.6" cy="607.3" r="5.7"/><circle cx="200.6" cy="627.4" r="5.7"/><circle cx="200.6" cy="642.9" r="5.7"/><circle cx="200.6" cy="650.3" r="5.7"/><circle cx="200.6" cy="655.2" r="5.7"/><circle cx="200.6" cy="661.4" r="5.7"/><circle cx="200.6" cy="667.5" r="5.7"/><circle cx="200.6" cy="672.4" r="5.7"/><circle cx="200.6" cy="679.8" r="5.7"/><circle cx="200.6" cy="684.7" r="5.7"/><circle cx="200.6" cy="689.6" r="5.7"/><circle cx="200.6" cy="693.3" r="5.7"/><circle cx="200.6" cy="708.1" r="5.7"/><circle cx="212.9" cy="627.4" r="5.7"/><circle cx="236.8" cy="560.6" r="5.7"/><circle cx="236.8" cy="579.7" r="5.7"/><circle cx="236.8" cy="590.1" r="5.7"/><circle cx="236.8" cy="595.0" r="5.7"/><circle cx="236.8" cy="609.7" r="5.7"/><circle cx="236.8" cy="617.1" r="5.7"/><circle cx="236.8" cy="624.5" r="5.7"/><circle cx="236.8" cy="650.3" r="5.7"/><circle cx="236.8" cy="655.2" r="5.7"/><circle cx="236.8" cy="662.6" r="5.7"/><circle cx="236.8" cy="671.2" r="5.7"/><circle cx="236.8" cy="678.6" r="5.7"/><circle cx="236.8" cy="689.6" r="5.7"/><circle cx="236.8" cy="695.8" r="5.7"/><circle cx="236.8" cy="706.8" r="5.7"/><circle cx="271.9" cy="568.7" r="5.7"/><circle cx="271.9" cy="583.9" r="5.7"/><circle cx="271.9" cy="614.7" r="5.7"/><circle cx="271.9" cy="622.0" r="5.7"/><circle cx="271.9" cy="633.1" r="5.7"/><circle cx="271.9" cy="646.6" r="5.7"/><circle cx="271.9" cy="655.2" r="5.7"/><circle cx="271.9" cy="662.1" r="5.7"/><circle cx="312.0" cy="532.3" r="5.7"/><circle cx="312.0" cy="536.0" r="5.7"/><circle cx="312.0" cy="569.9" r="5.7"/><circle cx="312.0" cy="596.9" r="5.7"/><circle cx="312.0" cy="607.8" r="5.7"/><circle cx="312.0" cy="637.5" r="5.7"/><circle cx="312.0" cy="652.8" r="5.7"/><circle cx="312.0" cy="674.9" r="5.7"/><circle cx="312.0" cy="679.3" r="5.7"/><circle cx="312.0" cy="690.9" r="5.7"/><circle cx="316.2" cy="587.6" r="5.7"/><circle cx="347.6" cy="561.1" r="5.7"/><circle cx="347.6" cy="666.8" r="5.7"/><circle cx="407.1" cy="547.0" r="5.7"/><circle cx="161.3" cy="726.0" r="5.7"/><circle cx="161.3" cy="746.4" r="5.7"/><circle cx="161.3" cy="759.9" r="5.7"/><circle cx="161.3" cy="767.8" r="5.7"/><circle cx="184.7" cy="779.6" r="5.7"/><circle cx="184.7" cy="798.7" r="5.7"/><circle cx="200.6" cy="718.1" r="5.7"/><circle cx="200.6" cy="729.2" r="5.7"/><circle cx="200.6" cy="732.9" r="5.7"/><circle cx="200.6" cy="744.4" r="5.7"/><circle cx="200.6" cy="756.2" r="5.7"/><circle cx="200.6" cy="761.1" r="5.7"/><circle cx="200.6" cy="766.0" r="5.7"/><circle cx="200.6" cy="818.9" r="5.7"/><circle cx="236.8" cy="714.4" r="5.7"/><circle cx="236.8" cy="722.3" r="5.7"/><circle cx="236.8" cy="736.5" r="5.7"/><circle cx="125.6" cy="874.2" r="5.7"/></g><rect x="89.8" y="521.9" width="337.8" height="369.6" fill="none" stroke="#161616" stroke-width="2.1"/><path d="M90.0 891.5V897.5 M169.2 891.5V897.5 M248.5 891.5V897.5 M327.8 891.5V897.5 M407.0 891.5V897.5 M89.8 891.5H83.3 M89.8 836.7H83.3 M89.8 781.8H83.3 M89.8 727.0H83.3 M89.8 672.1H83.3 M89.8 617.3H83.3 M89.8 562.5H83.3" stroke="#111" stroke-width="1.8" fill="none"/><text x="90.0" y="924.2" text-anchor="middle" font-size="27.5">0</text><text x="169.2" y="924.2" text-anchor="middle" font-size="27.5">20</text><text x="248.5" y="924.2" text-anchor="middle" font-size="27.5">40</text><text x="327.8" y="924.2" text-anchor="middle" font-size="27.5">60</text><text x="407.0" y="924.2" text-anchor="middle" font-size="27.5">80</text><text x="75.8" y="901.4" text-anchor="end" font-size="27.5">12</text><text x="75.8" y="846.6" text-anchor="end" font-size="27.5">14</text><text x="75.8" y="791.7" text-anchor="end" font-size="27.5">16</text><text x="75.8" y="736.9" text-anchor="end" font-size="27.5">18</text><text x="75.8" y="682.0" text-anchor="end" font-size="27.5">20</text><text x="75.8" y="627.2" text-anchor="end" font-size="27.5">22</text><text x="75.8" y="572.4" text-anchor="end" font-size="27.5">24</text><g fill="url(#mg)" stroke="#000" stroke-width="2.8"><circle cx="811.6" cy="560.7" r="5.7"/><circle cx="728.7" cy="623.1" r="5.7"/><circle cx="710.2" cy="646.3" r="5.7"/><circle cx="721.5" cy="649.9" r="5.7"/><circle cx="731.8" cy="643.7" r="5.7"/><circle cx="706.0" cy="655.1" r="5.7"/><circle cx="693.6" cy="649.4" r="5.7"/><circle cx="714.3" cy="654.0" r="5.7"/><circle cx="730.8" cy="656.1" r="5.7"/><circle cx="725.6" cy="663.3" r="5.7"/><circle cx="679.7" cy="668.5" r="5.7"/><circle cx="693.6" cy="669.5" r="5.7"/><circle cx="704.0" cy="671.6" r="5.7"/><circle cx="676.1" cy="681.9" r="5.7"/><circle cx="693.6" cy="677.8" r="5.7"/><circle cx="707.1" cy="686.0" r="5.7"/><circle cx="685.4" cy="693.2" r="5.7"/><circle cx="662.7" cy="710.8" r="5.7"/><circle cx="868.5" cy="533.5" r="5.7"/><circle cx="846.4" cy="536.5" r="5.7"/><circle cx="856.7" cy="547.5" r="5.7"/><circle cx="846.4" cy="575.3" r="5.7"/><circle cx="815.7" cy="560.6" r="5.7"/><circle cx="784.9" cy="568.4" r="5.7"/><circle cx="780.0" cy="570.4" r="5.7"/><circle cx="793.1" cy="579.7" r="5.7"/><circle cx="798.5" cy="590.1" r="5.7"/><circle cx="811.3" cy="590.1" r="5.7"/><circle cx="781.3" cy="595.0" r="5.7"/><circle cx="792.3" cy="606.5" r="5.7"/><circle cx="799.0" cy="608.5" r="5.7"/><circle cx="793.1" cy="627.4" r="5.7"/><circle cx="763.6" cy="583.9" r="5.7"/><circle cx="758.6" cy="588.3" r="5.7"/><circle cx="749.8" cy="596.7" r="5.7"/><circle cx="741.9" cy="609.7" r="5.7"/><circle cx="744.9" cy="607.3" r="5.7"/><circle cx="759.6" cy="617.1" r="5.7"/><circle cx="716.1" cy="617.1" r="5.7"/><circle cx="651.0" cy="723.0" r="5.7"/><circle cx="659.6" cy="726.2" r="5.7"/><circle cx="633.8" cy="727.9" r="5.7"/><circle cx="638.7" cy="727.9" r="5.7"/><circle cx="646.0" cy="732.1" r="5.7"/><circle cx="638.7" cy="736.5" r="5.7"/><circle cx="630.1" cy="744.4" r="5.7"/><circle cx="635.0" cy="747.6" r="5.7"/><circle cx="611.6" cy="756.2" r="5.7"/><circle cx="607.9" cy="761.1" r="5.7"/><circle cx="614.6" cy="767.8" r="5.7"/><circle cx="607.9" cy="780.1" r="5.7"/><circle cx="587.0" cy="798.5" r="5.7"/><circle cx="573.5" cy="818.9" r="5.7"/><circle cx="715.8" cy="625.7" r="5.7"/><circle cx="740.6" cy="622.1" r="5.7"/><circle cx="728.7" cy="632.9" r="5.7"/><circle cx="715.8" cy="637.5" r="5.7"/><circle cx="742.1" cy="647.3" r="5.7"/><circle cx="725.1" cy="656.1" r="5.7"/><circle cx="699.3" cy="661.8" r="5.7"/><circle cx="690.6" cy="656.6" r="5.7"/><circle cx="685.4" cy="666.4" r="5.7"/><circle cx="673.0" cy="673.6" r="5.7"/><circle cx="665.8" cy="681.9" r="5.7"/><circle cx="685.4" cy="678.8" r="5.7"/><circle cx="707.6" cy="678.8" r="5.7"/><circle cx="699.3" cy="688.6" r="5.7"/><circle cx="677.1" cy="692.7" r="5.7"/><circle cx="664.2" cy="694.3" r="5.7"/><circle cx="657.5" cy="706.7" r="5.7"/><circle cx="679.7" cy="709.2" r="5.7"/><circle cx="655.5" cy="717.5" r="5.7"/><circle cx="819.1" cy="560.5" r="5.7"/></g><rect x="562.6" y="522.0" width="337.5" height="369.6" fill="none" stroke="#161616" stroke-width="2.1"/><path d="M571.5 891.6V897.6 M665.2 891.6V897.6 M758.9 891.6V897.6 M852.6 891.6V897.6 M562.6 891.5H556.1 M562.6 836.7H556.1 M562.6 781.8H556.1 M562.6 727.0H556.1 M562.6 672.1H556.1 M562.6 617.3H556.1 M562.6 562.5H556.1" stroke="#111" stroke-width="1.8" fill="none"/><text x="571.5" y="924.3" text-anchor="middle" font-size="27.5">100</text><text x="665.2" y="924.3" text-anchor="middle" font-size="27.5">200</text><text x="758.9" y="924.3" text-anchor="middle" font-size="27.5">300</text><text x="852.6" y="924.3" text-anchor="middle" font-size="27.5">400</text><text x="548.6" y="901.4" text-anchor="end" font-size="27.5">12</text><text x="548.6" y="846.6" text-anchor="end" font-size="27.5">14</text><text x="548.6" y="791.7" text-anchor="end" font-size="27.5">16</text><text x="548.6" y="736.9" text-anchor="end" font-size="27.5">18</text><text x="548.6" y="682.0" text-anchor="end" font-size="27.5">20</text><text x="548.6" y="627.2" text-anchor="end" font-size="27.5">22</text><text x="548.6" y="572.4" text-anchor="end" font-size="27.5">24</text><g fill="url(#mg)" stroke="#000" stroke-width="2.8"><circle cx="1292.6" cy="547.0" r="5.7"/><circle cx="1257.5" cy="558.8" r="5.7"/><circle cx="1303.5" cy="561.1" r="5.7"/><circle cx="1332.5" cy="569.7" r="5.7"/><circle cx="1363.2" cy="568.4" r="5.7"/><circle cx="1292.6" cy="575.3" r="5.7"/><circle cx="1292.6" cy="588.1" r="5.7"/><circle cx="1323.9" cy="579.0" r="5.7"/><circle cx="1327.6" cy="583.9" r="5.7"/><circle cx="1271.0" cy="589.6" r="5.7"/><circle cx="1279.6" cy="589.6" r="5.7"/><circle cx="1275.9" cy="595.0" r="5.7"/><circle cx="1278.4" cy="609.7" r="5.7"/><circle cx="1292.6" cy="617.8" r="5.7"/><circle cx="1275.9" cy="627.4" r="5.7"/><circle cx="1275.9" cy="640.5" r="5.7"/><circle cx="1236.1" cy="606.5" r="5.7"/><circle cx="1246.4" cy="607.3" r="5.7"/><circle cx="1250.1" cy="623.3" r="5.7"/><circle cx="1255.0" cy="627.4" r="5.7"/><circle cx="1222.3" cy="622.0" r="5.7"/><circle cx="1193.1" cy="608.5" r="5.7"/><circle cx="1207.1" cy="616.6" r="5.7"/><circle cx="1200.2" cy="626.9" r="5.7"/><circle cx="1207.1" cy="632.6" r="5.7"/><circle cx="1194.8" cy="637.5" r="5.7"/><circle cx="1202.2" cy="641.7" r="5.7"/><circle cx="1207.1" cy="646.6" r="5.7"/><circle cx="1193.6" cy="650.3" r="5.7"/><circle cx="1193.6" cy="656.4" r="5.7"/><circle cx="1185.0" cy="660.6" r="5.7"/><circle cx="1189.9" cy="667.0" r="5.7"/><circle cx="1186.9" cy="681.8" r="5.7"/><circle cx="1176.4" cy="652.8" r="5.7"/><circle cx="1172.7" cy="672.4" r="5.7"/><circle cx="1169.0" cy="656.4" r="5.7"/><circle cx="1165.3" cy="662.1" r="5.7"/><circle cx="1156.7" cy="652.8" r="5.7"/><circle cx="1151.8" cy="656.0" r="5.7"/><circle cx="1143.2" cy="656.4" r="5.7"/><circle cx="1156.7" cy="667.5" r="5.7"/><circle cx="1156.7" cy="672.4" r="5.7"/><circle cx="1114.9" cy="678.6" r="5.7"/><circle cx="1122.3" cy="676.1" r="5.7"/><circle cx="1129.7" cy="678.6" r="5.7"/><circle cx="1114.9" cy="684.7" r="5.7"/><circle cx="1114.9" cy="689.6" r="5.7"/><circle cx="1114.9" cy="694.6" r="5.7"/><circle cx="1122.3" cy="689.6" r="5.7"/><circle cx="1135.8" cy="693.3" r="5.7"/><circle cx="1144.4" cy="688.4" r="5.7"/><circle cx="1144.4" cy="695.8" r="5.7"/><circle cx="1182.5" cy="654.0" r="5.7"/><circle cx="1172.7" cy="665.0" r="5.7"/><circle cx="1125.5" cy="707.0" r="5.7"/><circle cx="1093.3" cy="709.0" r="5.7"/><circle cx="1108.3" cy="712.0" r="5.7"/><circle cx="1108.3" cy="718.1" r="5.7"/><circle cx="1100.1" cy="723.0" r="5.7"/><circle cx="1093.3" cy="732.1" r="5.7"/><circle cx="1085.4" cy="736.5" r="5.7"/><circle cx="1112.4" cy="728.7" r="5.7"/><circle cx="1114.9" cy="734.1" r="5.7"/><circle cx="1123.0" cy="728.7" r="5.7"/><circle cx="1093.3" cy="745.1" r="5.7"/><circle cx="1093.3" cy="757.4" r="5.7"/><circle cx="1093.3" cy="761.1" r="5.7"/><circle cx="1080.5" cy="764.8" r="5.7"/><circle cx="1076.3" cy="767.8" r="5.7"/><circle cx="1079.3" cy="780.1" r="5.7"/><circle cx="1079.3" cy="798.5" r="5.7"/><circle cx="1044.1" cy="818.9" r="5.7"/><circle cx="1044.1" cy="874.2" r="5.7"/></g><rect x="1034.8" y="521.9" width="337.7" height="369.3" fill="none" stroke="#161616" stroke-width="2.1"/><path d="M1050.8 891.2V897.2 M1127.3 891.2V897.2 M1203.8 891.2V897.2 M1280.3 891.2V897.2 M1356.8 891.2V897.2 M1034.8 891.5H1028.3 M1034.8 836.7H1028.3 M1034.8 781.8H1028.3 M1034.8 727.0H1028.3 M1034.8 672.1H1028.3 M1034.8 617.3H1028.3 M1034.8 562.5H1028.3" stroke="#111" stroke-width="1.8" fill="none"/><text x="1050.8" y="923.9" text-anchor="middle" font-size="27.5">50</text><text x="1127.3" y="923.9" text-anchor="middle" font-size="27.5">100</text><text x="1203.8" y="923.9" text-anchor="middle" font-size="27.5">150</text><text x="1280.3" y="923.9" text-anchor="middle" font-size="27.5">200</text><text x="1356.8" y="923.9" text-anchor="middle" font-size="27.5">250</text><text x="1020.8" y="901.4" text-anchor="end" font-size="27.5">12</text><text x="1020.8" y="846.6" text-anchor="end" font-size="27.5">14</text><text x="1020.8" y="791.7" text-anchor="end" font-size="27.5">16</text><text x="1020.8" y="736.9" text-anchor="end" font-size="27.5">18</text><text x="1020.8" y="682.0" text-anchor="end" font-size="27.5">20</text><text x="1020.8" y="627.2" text-anchor="end" font-size="27.5">22</text><text x="1020.8" y="572.4" text-anchor="end" font-size="27.5">24</text><text x="259.3" y="28.5" font-size="34.3" text-anchor="middle" textLength="85.5" lengthAdjust="spacingAndGlyphs">RMW</text><text x="731.5" y="28.8" font-size="34.3" text-anchor="middle" textLength="60.5" lengthAdjust="spacingAndGlyphs">R34</text><text x="1204.3" y="28.8" font-size="34.3" text-anchor="middle" textLength="61.5" lengthAdjust="spacingAndGlyphs">R50</text><text x="14.8" y="66.3" font-size="29" text-anchor="middle" font-weight="bold" style="stroke-width:0.6px">A</text><text x="465.0" y="66.3" font-size="29" text-anchor="middle" font-weight="bold" style="stroke-width:0.6px">B</text><text x="949.6" y="66.3" font-size="29" text-anchor="middle" font-weight="bold" style="stroke-width:0.6px">C</text><text x="15.7" y="544.6" font-size="29" text-anchor="middle" font-weight="bold" style="stroke-width:0.6px">D</text><text x="464.2" y="544.6" font-size="29" text-anchor="middle" font-weight="bold" style="stroke-width:0.6px">E</text><text x="947.6" y="544.6" font-size="29" text-anchor="middle" font-weight="bold" style="stroke-width:0.6px">F</text><text x="311.1" y="342.3" font-size="33" text-anchor="middle" font-style="italic" textLength="105.8" lengthAdjust="spacing" style="stroke-width:0">r=0.33</text><text x="781.3" y="342.2" font-size="33" text-anchor="middle" font-style="italic" textLength="106.8" lengthAdjust="spacing" style="stroke-width:0">r=0.87</text><text x="1279.2" y="342.2" font-size="33" text-anchor="middle" font-style="italic" textLength="102.7" lengthAdjust="spacing" style="stroke-width:0">r=0.71</text><text x="339.5" y="782.2" font-size="33" text-anchor="middle" font-style="italic" textLength="102.7" lengthAdjust="spacing" style="stroke-width:0">r=0.51</text><text x="812.0" y="782.2" font-size="33" text-anchor="middle" font-style="italic" textLength="105.3" lengthAdjust="spacing" style="stroke-width:0">r=0.95</text><text x="1254.9" y="782.2" font-size="33" text-anchor="middle" font-style="italic" textLength="103.3" lengthAdjust="spacing" style="stroke-width:0">r=0.92</text><text x="215.2" y="396.3" font-size="29.3" text-anchor="middle" textLength="207.4" lengthAdjust="spacingAndGlyphs">MWS=55 knots</text><text x="222.3" y="877.3" font-size="29.3" text-anchor="middle" textLength="224.1" lengthAdjust="spacingAndGlyphs">MWS=105 knots</text><text x="258.7" y="958.5" font-size="29" text-anchor="middle" textLength="140.8" lengthAdjust="spacingAndGlyphs">RMW [km]</text><text x="731.6" y="958.5" font-size="29" text-anchor="middle" textLength="120.7" lengthAdjust="spacingAndGlyphs">R34 [km]</text><text x="1204.0" y="958.5" font-size="29" text-anchor="middle" textLength="120.5" lengthAdjust="spacingAndGlyphs">R50 [km]</text><g transform="translate(27.9,285.1) rotate(-90)"><text x="-1" y="0" font-size="30.5" font-style="italic" textLength="26" lengthAdjust="spacingAndGlyphs">H</text><text x="26.5" y="-7.6" font-size="21.5" font-style="italic" textLength="39.5" lengthAdjust="spacingAndGlyphs">max</text><text x="22.5" y="9.3" font-size="21.5" font-style="italic">s</text><text x="80.5" y="0.5" font-size="29" textLength="40.5" lengthAdjust="spacingAndGlyphs">[m]</text></g><g transform="translate(27.9,765.0) rotate(-90)"><text x="-1" y="0" font-size="30.5" font-style="italic" textLength="26" lengthAdjust="spacingAndGlyphs">H</text><text x="26.5" y="-7.6" font-size="21.5" font-style="italic" textLength="39.5" lengthAdjust="spacingAndGlyphs">max</text><text x="22.5" y="9.3" font-size="21.5" font-style="italic">s</text><text x="80.5" y="0.5" font-size="29" textLength="40.5" lengthAdjust="spacingAndGlyphs">[m]</text></g></svg>
</body></html>
